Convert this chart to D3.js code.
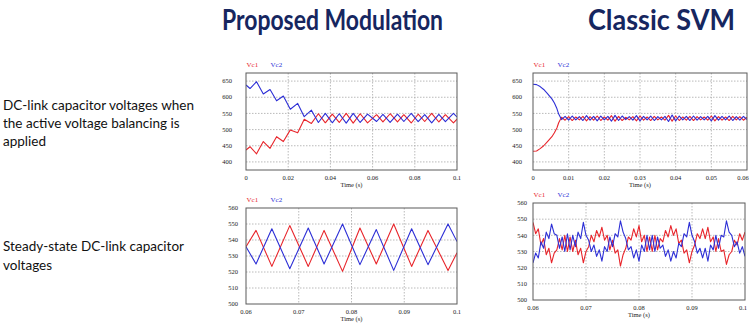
<!DOCTYPE html>
<html>
<head>
<meta charset="utf-8">
<script src="https://cdn.jsdelivr.net/npm/d3@7/dist/d3.min.js"></script>
<style>
  html, body { margin: 0; padding: 0; background: #fff; }
  svg { display: block; }
</style>
</head>
<body>
<svg id="chart" width="750" height="326"></svg>
<script>
// ---- Column titles and row descriptions ----
const columnTitles = ["Proposed Modulation", "Classic SVM"];
const rowLabels = [
  ["DC-link capacitor voltages when", "the active voltage balancing is", "applied"],
  ["Steady-state DC-link capacitor", "voltages"]
];
const seriesNames = ["Vc1", "Vc2"];
const xAxisTitle = "Time (s)";

// ---- Proposed modulation, start-up with active balancing (0 - 0.1 s) ----
const propStartTime = [0, 0.0019, 0.005, 0.0082, 0.0114, 0.0145, 0.0177, 0.021, 0.0245, 0.0276,
  0.031, 0.0343, 0.0376, 0.0409, 0.0442, 0.0475, 0.0508, 0.0541, 0.0576,
  0.0619, 0.0649, 0.0683, 0.0718, 0.0748, 0.0783, 0.0816, 0.0847, 0.088, 0.0914, 0.0945, 0.0983, 0.1];
const propStartVc1 = [437, 447, 425, 463, 442, 478, 463, 499, 490, 532,
  519, 549, 521, 548, 522, 550, 520, 549, 521,
  546, 523.5, 549, 523.5, 546, 520.4, 547.5, 525, 550, 523.5, 546, 521, 532];
const propStartVc2 = [638, 627, 648, 610, 624, 589, 604, 563, 581, 540,
  560, 522, 550, 521, 549, 520, 550, 522, 548,
  525, 547, 522, 547.5, 525, 550, 524.6, 546.5, 521, 547, 524.6, 550, 539];

// ---- Proposed modulation, steady state (0.06 - 0.1 s) ----
const propSteadyTime = [0.06, 0.0619, 0.0649, 0.0683, 0.0718, 0.0748, 0.0783, 0.0816, 0.0847, 0.088, 0.0914, 0.0945, 0.0983, 0.1];
const propSteadyVc1 = [535.8, 546, 523.5, 549, 523.5, 546, 520.4, 547.5, 525, 550, 523.5, 546, 521, 532];
const propSteadyVc2 = [535.8, 525, 547, 522, 547.5, 525, 550, 524.6, 546.5, 521, 547, 524.6, 550, 539];

// ---- Classic SVM, start-up (0 - 0.06 s): initial charge-up then 1 ms samples ----
const svmRampTime = [0, 0.001, 0.002, 0.003, 0.004, 0.0053, 0.006, 0.0067, 0.0072];
const svmRampVc1 = [433, 434, 441, 450, 462, 478, 490, 505, 521];
const svmRampVc2 = [640, 639, 633, 624, 612, 595, 582, 565, 548];
const svmRippleStart = 0.008, svmRippleStep = 0.001;
const svmRippleVc1 = [538, 529, 540, 528, 539, 530, 541, 527, 540, 529, 542, 528, 539, 529, 543, 526, 541, 528,
  538, 530, 540, 527, 542, 529, 539, 528, 541, 530, 539, 529, 544, 526, 542, 528, 539, 529, 541, 528,
  540, 530, 539, 529, 542, 527, 540, 529, 539, 528, 541, 530, 540, 529, 538];
const svmRippleVc2 = [531, 541, 529, 542, 530, 540, 528, 543, 529, 541, 527, 542, 530, 541, 526, 544, 528, 542,
  531, 540, 529, 543, 527, 541, 530, 542, 528, 540, 530, 541, 525, 545, 527, 542, 530, 541, 528, 542,
  529, 540, 530, 541, 527, 543, 529, 541, 530, 542, 528, 540, 529, 541, 531];

// ---- Classic SVM, steady state (0.06 - 0.1 s), 0.5 ms samples ----
const svmSteadyStart = 0.06, svmSteadyStep = 0.0005;
const svmSteadyVc1 = [548, 541, 544, 534, 538, 528, 532, 523, 529, 531, 538, 531, 540, 530, 539, 530, 537, 528, 532, 523,
  530, 533, 540, 536, 543, 539, 545, 537, 540, 531, 537, 529, 531, 521, 528, 532, 539, 537, 544, 539,
  546, 536, 540, 530, 539, 530, 540, 531, 538, 536, 543, 539, 546, 540, 544, 535, 537, 529, 531, 523,
  530, 534, 541, 538, 544, 538, 545, 536, 539, 530, 538, 530, 531, 522, 528, 530, 537, 534, 541, 537, 542];
const svmSteadyVc2 = [523, 529, 526, 536, 532, 542, 538, 547, 541, 540, 532, 539, 530, 541, 531, 540, 533, 542, 538, 548,
  540, 537, 530, 534, 527, 531, 524, 533, 530, 539, 533, 541, 539, 549, 542, 538, 531, 533, 526, 531,
  524, 534, 530, 540, 531, 540, 530, 539, 532, 534, 527, 531, 524, 530, 526, 535, 533, 541, 539, 548,
  540, 536, 529, 532, 526, 532, 524, 534, 531, 540, 532, 540, 539, 549, 542, 540, 533, 536, 529, 533, 527];

// ---- Axis ticks ----
const startYTicks = [400, 450, 500, 550, 600, 650];
const steadyYTicks = [500, 510, 520, 530, 540, 550, 560];
const propStartXTicks = [0, 0.02, 0.04, 0.06, 0.08, 0.1];
const svmStartXTicks = [0, 0.01, 0.02, 0.03, 0.04, 0.05, 0.06];
const steadyXTicks = [0.06, 0.07, 0.08, 0.09, 0.1];

// build point lists
const zip = (ts, vs) => ts.map((t, i) => ({ t, v: vs[i] }));
const sampled = (t0, dt, vs) => vs.map((v, i) => ({ t: t0 + i * dt, v }));

const svmStartVc1 = zip(svmRampTime, svmRampVc1).concat(sampled(svmRippleStart, svmRippleStep, svmRippleVc1));
const svmStartVc2 = zip(svmRampTime, svmRampVc2).concat(sampled(svmRippleStart, svmRippleStep, svmRippleVc2));

const svg = d3.select("#chart");
const W = 750;
const RED = "#e8252b", BLUE = "#2d2fd6", NAVY = "#16265f";

// column titles
const titleBoxes = [{ x: 222, w: 221 }, { x: 588, w: 147 }];
columnTitles.forEach((t, i) => {
  svg.append("text").attr("x", titleBoxes[i].x).attr("y", 30)
    .attr("font-family", "Lato, 'Open Sans', sans-serif").attr("font-weight", 700).attr("font-size", 29)
    .attr("fill", NAVY).attr("textLength", titleBoxes[i].w).attr("lengthAdjust", "spacingAndGlyphs")
    .text(t);
});

// row descriptions
const rowY = [[110, 128, 146], [251, 270]];
rowLabels.forEach((lines, r) => {
  lines.forEach((line, i) => {
    svg.append("text").attr("x", 3).attr("y", rowY[r][i])
      .attr("font-family", "Lato, 'Open Sans', sans-serif").attr("font-size", 13.5)
      .attr("fill", "#111").text(line);
  });
});

function panel(cfg) {
  const { x0, x1, y0, y1 } = cfg.box;
  const x = d3.scaleLinear().domain(cfg.xDomain).range([x0, x1]);
  const y = d3.scaleLinear().domain(cfg.yDomain).range([y1, y0]);
  const g = svg.append("g");
  const fmt = d => String(+d.toFixed(3));

  // grid
  g.append("g").selectAll("line").data(cfg.xTicks.filter(d => x(d) > x0 + 1 && x(d) < x1 - 1)).join("line")
    .attr("x1", d => x(d)).attr("x2", d => x(d)).attr("y1", y0).attr("y2", y1)
    .attr("stroke", "#a8a8a8").attr("stroke-width", 0.8).attr("stroke-dasharray", "1.5,1.5");
  g.append("g").selectAll("line").data(cfg.yTicks.filter(d => y(d) > y0 + 1 && y(d) < y1 - 1)).join("line")
    .attr("x1", x0).attr("x2", x1).attr("y1", d => y(d)).attr("y2", d => y(d))
    .attr("stroke", "#a8a8a8").attr("stroke-width", 0.8).attr("stroke-dasharray", "1.5,1.5");

  // series
  const line = d3.line().x(d => x(d.t)).y(d => y(d.v));
  const clipId = "clip" + cfg.id;
  svg.append("clipPath").attr("id", clipId).append("rect")
    .attr("x", x0).attr("y", y0).attr("width", x1 - x0).attr("height", y1 - y0);
  const lines = g.append("g").attr("clip-path", `url(#${clipId})`);
  lines.append("path").datum(cfg.vc1).attr("d", line).attr("fill", "none")
    .attr("stroke", RED).attr("stroke-width", 1.1).attr("stroke-linejoin", "round");
  lines.append("path").datum(cfg.vc2).attr("d", line).attr("fill", "none")
    .attr("stroke", BLUE).attr("stroke-width", 1.1).attr("stroke-linejoin", "round");

  // frame
  g.append("rect").attr("x", x0).attr("y", y0).attr("width", x1 - x0).attr("height", y1 - y0)
    .attr("fill", "none").attr("stroke", "#5a5a5a").attr("stroke-width", 1);

  // tick labels
  const small = { "font-family": "'Liberation Serif', serif", "font-size": 6.5, fill: "#222" };
  const yl = g.append("g").selectAll("text").data(cfg.yTicks).join("text")
    .attr("x", x0 - cfg.yLabelGap).attr("y", d => y(d) + 2.2).attr("text-anchor", "end").text(d => d);
  const xl = g.append("g").selectAll("text").data(cfg.xTicks).join("text")
    .attr("y", y1 + cfg.xLabelGap).text(fmt)
    .attr("x", d => Math.min(x(d), W - 7)).attr("text-anchor", "middle");
  const xt = g.append("text").attr("x", (x0 + x1) / 2).attr("y", y1 + cfg.xLabelGap + 7)
    .attr("text-anchor", "middle").text(xAxisTitle);
  [yl, xl, xt].forEach(s => Object.entries(small).forEach(([k, v]) => s.attr(k, v)));

  // legend
  g.append("text").attr("x", x0 + 0.5).attr("y", cfg.legendY).attr("fill", RED)
    .attr("font-family", "'Liberation Serif', serif").attr("font-size", 7).text(seriesNames[0]);
  g.append("text").attr("x", x0 + 24.5).attr("y", cfg.legendY).attr("fill", BLUE)
    .attr("font-family", "'Liberation Serif', serif").attr("font-size", 7).text(seriesNames[1]);
}

panel({ id: "a", box: { x0: 246, x1: 457, y0: 73, y1: 170 }, xDomain: [0, 0.1], yDomain: [375, 675],
  xTicks: propStartXTicks, yTicks: startYTicks, yLabelGap: 14, xLabelGap: 9.5, legendY: 67,
  vc1: zip(propStartTime, propStartVc1), vc2: zip(propStartTime, propStartVc2) });

panel({ id: "b", box: { x0: 533, x1: 747, y0: 73, y1: 170 }, xDomain: [0, 0.06], yDomain: [375, 675],
  xTicks: svmStartXTicks, yTicks: startYTicks, yLabelGap: 11, xLabelGap: 9.5, legendY: 67,
  vc1: svmStartVc1, vc2: svmStartVc2 });

panel({ id: "c", box: { x0: 246, x1: 457, y0: 208, y1: 304 }, xDomain: [0.06, 0.1], yDomain: [500, 560],
  xTicks: steadyXTicks, yTicks: steadyYTicks, yLabelGap: 8, xLabelGap: 9.5, legendY: 202,
  vc1: zip(propSteadyTime, propSteadyVc1), vc2: zip(propSteadyTime, propSteadyVc2) });

panel({ id: "d", box: { x0: 533, x1: 745, y0: 203, y1: 300 }, xDomain: [0.06, 0.1], yDomain: [500, 560],
  xTicks: steadyXTicks, yTicks: steadyYTicks, yLabelGap: 6, xLabelGap: 9.5, legendY: 197,
  vc1: sampled(svmSteadyStart, svmSteadyStep, svmSteadyVc1), vc2: sampled(svmSteadyStart, svmSteadyStep, svmSteadyVc2) });
</script>
</body>
</html>
